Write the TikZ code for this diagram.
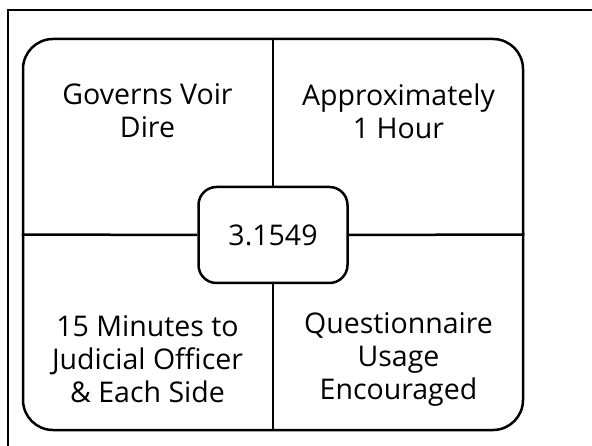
\documentclass[tikz,border=0pt]{standalone}
\usepackage{fontspec}
\setmainfont{Open Sans}
\usetikzlibrary{positioning}

\tikzset{
  quadtext/.style={align=center, font=\fontsize{28.5}{33}\selectfont},
  boxline/.style={line width=2.5pt},
}

\begin{document}
\begin{tikzpicture}[x=1pt,y=-1pt]
\useasboundingbox (0,0) rectangle (592,446);

% Marco exterior
\draw[boxline] (8,10) rectangle (620,470);

% Marco redondeado y centro
\node[draw, boxline, rounded corners=30pt, minimum width=500pt, minimum height=391pt, inner sep=0pt] (frame) at (273,234.5) {};
\node[draw, boxline, rounded corners=18pt, minimum width=149pt, minimum height=96pt, inner sep=0pt, quadtext] (core) at (273,235) {3.1549};

% Ejes
\draw[boxline] (frame.north) -- (core.north);
\draw[boxline] (core.south) -- (frame.south);
\draw[boxline] (frame.west) -- (core.west);
\draw[boxline] (core.east) -- (frame.east);

% Cuadrantes
\node[quadtext] (voir) at (147.5,111) {Governs Voir\\Dire};
\node[quadtext] (hour) at (398.5,111) {Approximately\\1 Hour};
\node[quadtext] (minutes) at (147.5,359) {15 Minutes to\\Judicial Officer\\\& Each Side};
\node[quadtext] (survey) at (398.5,359) {Questionnaire\\Usage\\Encouraged};

\end{tikzpicture}
\end{document}
